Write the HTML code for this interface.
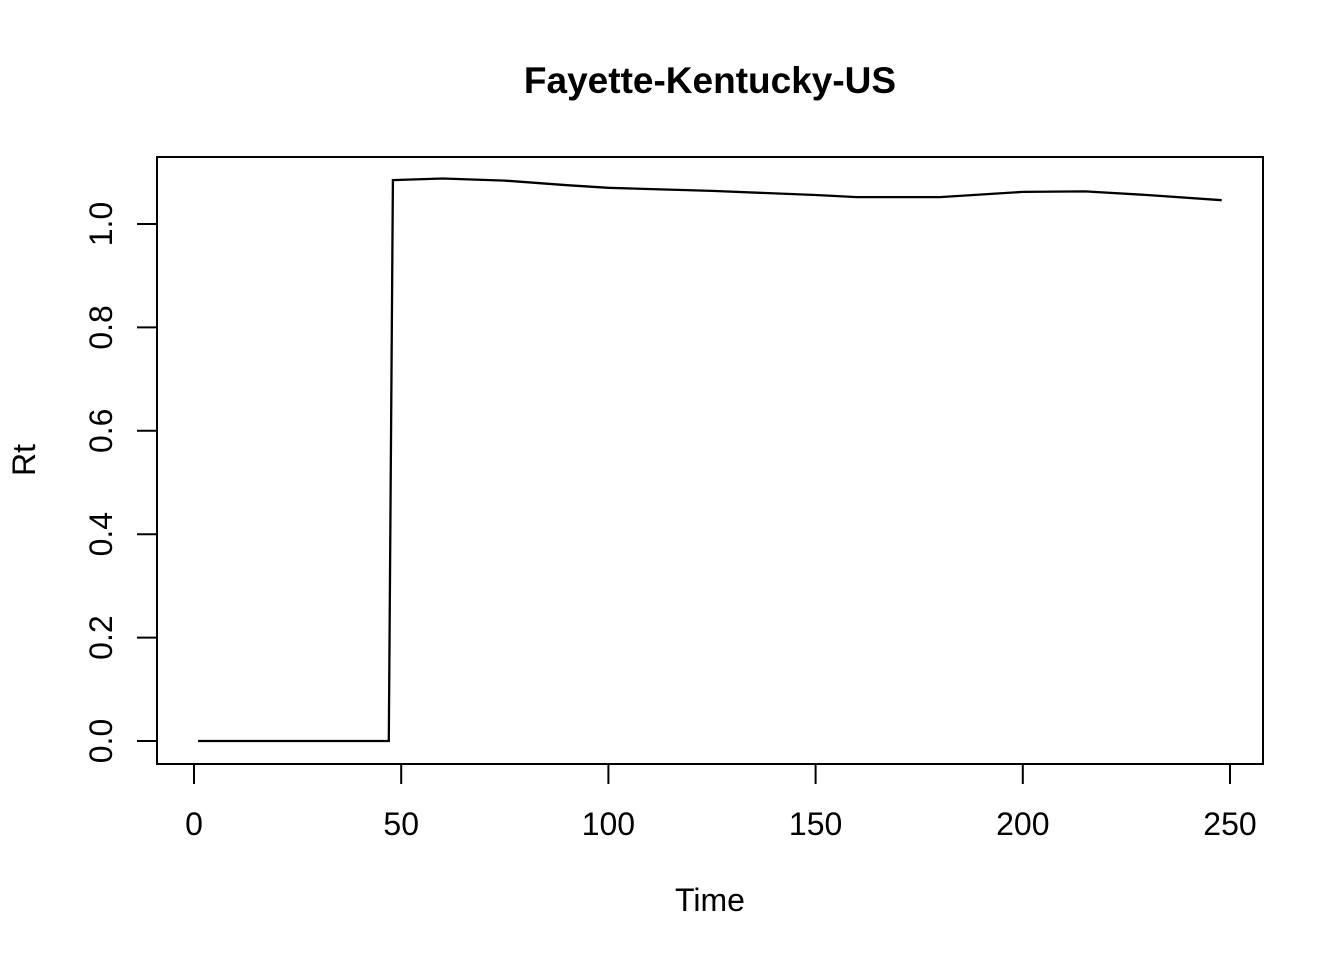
<!DOCTYPE html>
<html><head><meta charset="utf-8"><style>
body{margin:0;background:#fff}
svg text{font-family:"Liberation Sans",Arial,sans-serif;fill:#000}
</style></head><body>
<svg id="chart" width="1344" height="960">
<text x="710" y="93" font-size="37" font-weight="bold" text-anchor="middle">Fayette-Kentucky-US</text>
<rect x="157" y="157" width="1106" height="607" fill="none" stroke="#000" stroke-width="2"/>
<g id="xaxis"></g>
<g id="yaxis"></g>
<text x="710" y="911" font-size="32" text-anchor="middle">Time</text>
<text transform="translate(35,460) rotate(-90)" font-size="32" text-anchor="middle">Rt</text>
<path id="line" fill="none" stroke="#000" stroke-width="2.3"/>
</svg>
<script>
const xTicks=[0,50,100,150,200,250];
const yTicks=[0.0,0.2,0.4,0.6,0.8,1.0];
const days=[1,47,48,60,75,90,100,125,150,160,180,200,215,230,248];
const rt=[0,0,1.085,1.088,1.084,1.075,1.070,1.064,1.056,1.052,1.052,1.062,1.063,1.056,1.046];
const sx=v=>194+v*(1230-194)/250;
const sy=v=>741-v*517;
const ns="http://www.w3.org/2000/svg";
const xa=document.getElementById('xaxis'),ya=document.getElementById('yaxis');
let l=document.createElementNS(ns,'line');
l.setAttribute('x1',sx(0));l.setAttribute('x2',sx(250));l.setAttribute('y1',764);l.setAttribute('y2',764);l.setAttribute('stroke','#000');l.setAttribute('stroke-width',2);


xa.appendChild(l);
xTicks.forEach(t=>{
 const k=document.createElementNS(ns,'line');
 k.setAttribute('x1',sx(t));k.setAttribute('x2',sx(t));k.setAttribute('y1',764);k.setAttribute('y2',784);k.setAttribute('stroke','#000');k.setAttribute('stroke-width',2);
 
 
 xa.appendChild(k);
 const tx=document.createElementNS(ns,'text');
 tx.setAttribute('x',sx(t));tx.setAttribute('y',835);tx.setAttribute('font-size',32);tx.setAttribute('text-anchor','middle');tx.textContent=t;
 
 
 xa.appendChild(tx);
});
l=document.createElementNS(ns,'line');
l.setAttribute('x1',157);l.setAttribute('x2',157);l.setAttribute('y1',sy(0));l.setAttribute('y2',sy(1));l.setAttribute('stroke','#000');l.setAttribute('stroke-width',2);


ya.appendChild(l);
yTicks.forEach(t=>{
 const k=document.createElementNS(ns,'line');
 k.setAttribute('x1',137);k.setAttribute('x2',157);k.setAttribute('y1',sy(t));k.setAttribute('y2',sy(t));k.setAttribute('stroke','#000');k.setAttribute('stroke-width',2);
 
 
 ya.appendChild(k);
 const tx=document.createElementNS(ns,'text');
 tx.setAttribute('transform',`translate(112,${sy(t)}) rotate(-90)`);tx.setAttribute('font-size',32);tx.setAttribute('text-anchor','middle');tx.textContent=t.toFixed(1);
 
 
 ya.appendChild(tx);
});
document.getElementById('line').setAttribute('d',days.map((d,i)=>(i?'L':'M')+sx(d).toFixed(1)+','+sy(rt[i]).toFixed(1)).join(' '));
</script>
</body></html>
